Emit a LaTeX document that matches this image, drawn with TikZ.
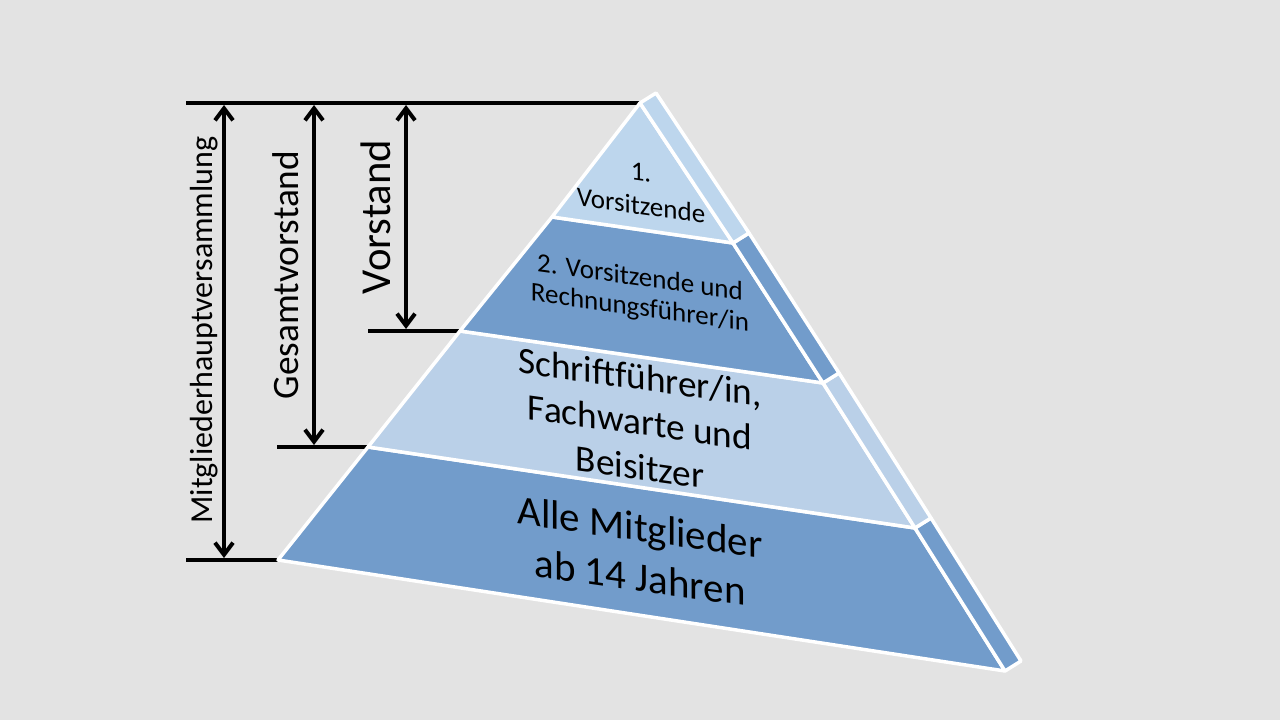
\documentclass[tikz,border=0pt]{standalone}
\usepackage{fontspec}
\setmainfont{Carlito}
\usetikzlibrary{arrows.meta}
\definecolor{bg}{HTML}{E3E3E3}
\definecolor{darkb}{HTML}{729CCB}
\definecolor{lightb}{HTML}{BAD0E8}
\definecolor{lighttop}{HTML}{BDD6ED}
\begin{document}
\begin{tikzpicture}[x=1pt,y=-1pt,
  face/.style={draw=white, line width=3.5pt, line join=round},
  dimline/.style={line width=4pt, draw=black},
  dimarrow/.style={line width=4pt, draw=black, {Straight Barb[length=12pt,width=18pt]}-{Straight Barb[length=12pt,width=18pt]}, shorten <=2pt, shorten >=2pt},
  vlabel/.style={anchor=base, rotate=90, inner sep=0pt, text=black},
  laytext/.style={align=center, inner sep=0pt, text=black, transform shape},
]
\fill[bg] (0,0) rectangle (1280,720);
\useasboundingbox (0,0) rectangle (1280,720);

% pyramid corners
\coordinate (A) at (640,103);
\coordinate (L1) at (552,217); \coordinate (R1) at (733,243);
\coordinate (L2) at (460,331); \coordinate (R2) at (823,383);
\coordinate (L3) at (368,447); \coordinate (R3) at (915,528);
\coordinate (L4) at (278,560); \coordinate (R4) at (1005,671);
\coordinate (As) at (656,93);
\coordinate (R1s) at (749,233); \coordinate (R2s) at (839,373);
\coordinate (R3s) at (931,518); \coordinate (R4s) at (1021,661);

% dimension lines
\coordinate (T0) at (186,103);
\coordinate (B4) at (186,560);
\coordinate (B3) at (277,447);
\coordinate (B2) at (368,331);
\draw[dimline] (T0) -- (A);
\draw[dimline] (B4) -- (L4);
\draw[dimline] (B3) -- (L3);
\draw[dimline] (B2) -- (L2);

\coordinate (M1t) at (224,103); \coordinate (M1b) at (224,560);
\coordinate (M2t) at (314,103); \coordinate (M2b) at (314,447);
\coordinate (M3t) at (406,103); \coordinate (M3b) at (406,331);
\draw[dimarrow] (M1t) -- (M1b);
\draw[dimarrow] (M2t) -- (M2b);
\draw[dimarrow] (M3t) -- (M3b);

\node[vlabel, font=\fontsize{32pt}{38pt}\selectfont] (lab1) at (212,330) {Mitgliederhauptversammlung};
\node[vlabel, font=\fontsize{37.3pt}{44pt}\selectfont] (lab2) at (298,275) {Gesamtvorstand};
\node[vlabel, font=\fontsize{42.7pt}{50pt}\selectfont] (lab3) at (390,217) {Vorstand};

% pyramid layers
\filldraw[face, fill=darkb] (L3) -- (R3) -- (R4) -- (L4) -- cycle;
\filldraw[face, fill=darkb] (R3) -- (R3s) -- (R4s) -- (R4) -- cycle;
\filldraw[face, fill=lightb] (L2) -- (R2) -- (R3) -- (L3) -- cycle;
\filldraw[face, fill=lightb] (R2) -- (R2s) -- (R3s) -- (R3) -- cycle;
\filldraw[face, fill=darkb] (L1) -- (R1) -- (R2) -- (L2) -- cycle;
\filldraw[face, fill=darkb] (R1) -- (R1s) -- (R2s) -- (R2) -- cycle;
\filldraw[face, fill=lighttop] (A) -- (R1) -- (L1) -- cycle;
\filldraw[face, fill=lighttop] (A) -- (As) -- (R1s) -- (R1) -- cycle;

% layer texts
\begin{scope}[shift={(641,189)}, yslant=-0.14]
\node[laytext, font=\fontsize{27pt}{34pt}\selectfont] (t1) at (0,0) {1.\\Vorsitzende};
\end{scope}
\begin{scope}[shift={(640,294)}, yslant=-0.14]
\node[laytext, font=\fontsize{27pt}{30pt}\selectfont] (t2) at (0,0) {2. Vorsitzende und\\Rechnungsführer/in};
\end{scope}
\begin{scope}[shift={(640,422)}, yslant=-0.14]
\node[laytext, font=\fontsize{37.3pt}{45pt}\selectfont] (t3) at (0,0) {Schriftführer/in,\\Fachwarte und\\Beisitzer};
\end{scope}
\begin{scope}[shift={(640,552)}, yslant=-0.14]
\node[laytext, font=\fontsize{41pt}{50pt}\selectfont] (t4) at (0,0) {Alle Mitglieder\\ab 14 Jahren};
\end{scope}
\end{tikzpicture}
\end{document}
